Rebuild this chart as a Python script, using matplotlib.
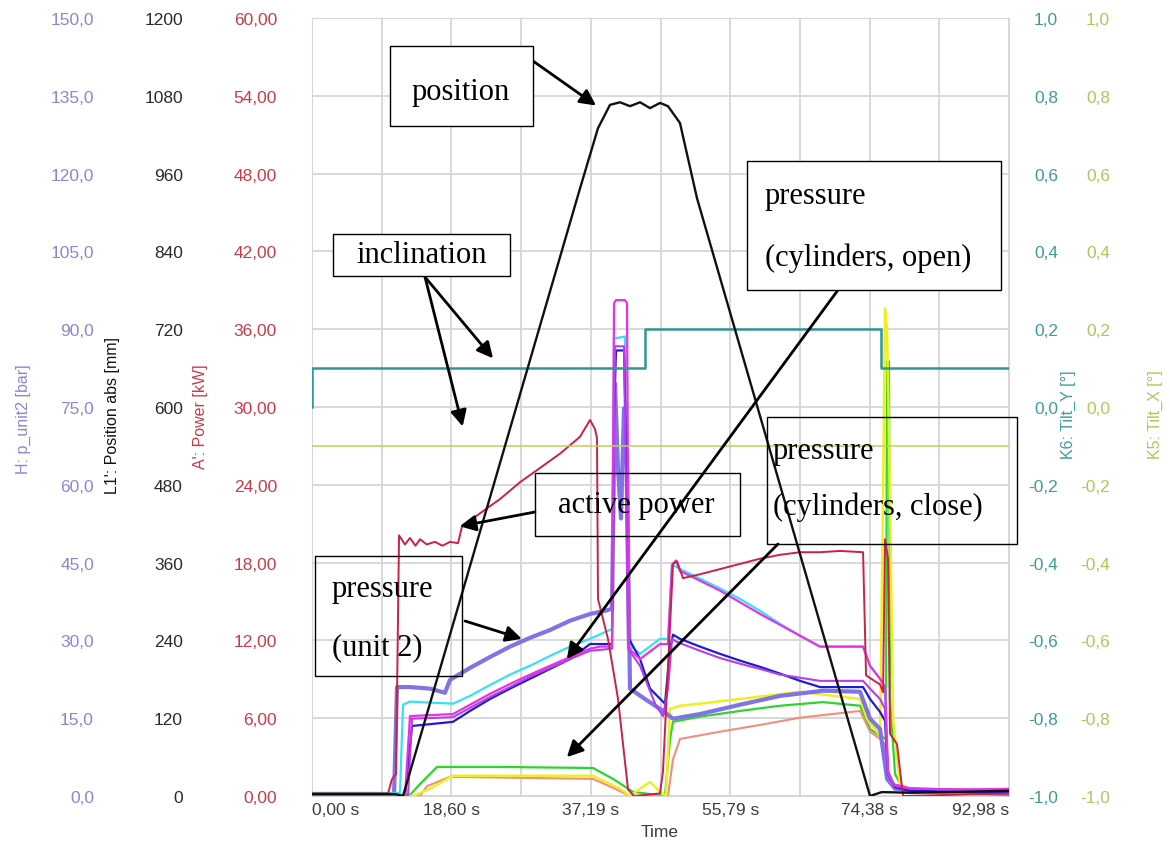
import matplotlib.pyplot as plt
from matplotlib import font_manager
from matplotlib.patches import Rectangle

# ---------------- data ----------------
time_ticks = [0.0, 9.298, 18.596, 27.894, 37.192, 46.49, 55.788, 65.086, 74.384, 83.682, 92.98]
time_labels = ['0,00 s', '', '18,60 s', '', '37,19 s', '', '55,79 s', '', '74,38 s', '', '92,98 s']

bar_ticks = [0, 15, 30, 45, 60, 75, 90, 105, 120, 135, 150]
bar_labels = ['0,0', '15,0', '30,0', '45,0', '60,0', '75,0', '90,0', '105,0', '120,0', '135,0', '150,0']
pos_ticks = [0, 120, 240, 360, 480, 600, 720, 840, 960, 1080, 1200]
pos_labels = ['0', '120', '240', '360', '480', '600', '720', '840', '960', '1080', '1200']
pow_ticks = [0, 6, 12, 18, 24, 30, 36, 42, 48, 54, 60]
pow_labels = ['0,00', '6,00', '12,00', '18,00', '24,00', '30,00', '36,00', '42,00', '48,00', '54,00', '60,00']
tilt_ticks = [-1.0, -0.8, -0.6, -0.4, -0.2, 0.0, 0.2, 0.4, 0.6, 0.8, 1.0]
tilt_labels = ['-1,0', '-0,8', '-0,6', '-0,4', '-0,2', '0,0', '0,2', '0,4', '0,6', '0,8', '1,0']

# position L1' [mm]
pos_t = [0, 11.07, 12.14, 35.75, 38.15, 39.75, 41.09, 42.42, 43.76, 45.09, 46.43, 47.49, 49.09, 51.36,
         74.44, 76.0, 80.0, 92.98]
pos_mm = [3, 3, 0, 937, 1030, 1066, 1070, 1064, 1070, 1061, 1069, 1064, 1038, 922, 0, 6, 5, 8]

# active power A' [kW]
pow_t = [0, 10.14, 10.67, 11.21, 11.61, 12.4, 13.07, 13.8, 14.41, 15.3, 16.41, 17.4, 18.41, 19.48, 20.01,
         22.41, 25.08, 27.75, 30.42, 33.08, 35.75, 37.09, 37.75, 38.02, 38.15, 39.49, 40.82, 42.16, 42.96,
         46.42, 46.82, 48.16, 48.69, 49.49, 51.76, 54.43, 57.10, 59.77, 62.43, 65.10, 67.77, 70.44, 73.51,
         73.91, 75.78, 76.18, 76.44, 76.84, 77.11, 78.04, 78.84, 92.98]
pow_kw = [0.2, 0.2, 1.3, 1.7, 20.1, 19.4, 19.9, 19.3, 19.8, 19.4, 19.6, 19.3, 19.6, 19.5, 20.8,
          21.8, 22.9, 24.2, 25.3, 26.4, 27.7, 29.0, 28.3, 27.6, 15.2, 12.1, 7.5, 0.5, 0.0,
          0.2, 1.9, 17.9, 18.1, 16.8, 17.1, 17.5, 17.9, 18.3, 18.6, 18.8, 18.8, 18.9, 18.8,
          9.3, 8.6, 8.0, 19.8, 18.3, 4.8, 4.0, 0.0, 0.2]

# inclination K6 / K5 [deg]
tilt_y_t = [0.0, 0.0, 44.42, 75.91, 92.98]
tilt_y = [0.0, 0.1, 0.2, 0.1, 0.1]
tilt_x_t = [0.0, 92.98]
tilt_x = [-0.1, -0.1]

# pressures [bar]
cyan_t = [0, 11.74, 12.14, 13.07, 18.81, 21.08, 23.75, 26.41, 29.08, 31.75, 34.42, 37.09, 40.02, 40.29,
          41.76, 42.16, 43.76, 46.42, 47.49, 48.03, 49.09, 51.76, 54.43, 57.10, 59.77, 62.43, 65.10, 67.77,
          73.51, 74.44, 75.78, 76.44, 76.84, 77.78, 79.78, 92.98]
cyan_p = [0.6, 0.6, 17.6, 18.2, 17.8, 19.3, 21.4, 23.4, 25.1, 27.0, 28.8, 30.3, 32.2, 88.2,
          88.6, 29.3, 27.4, 30.3, 30.3, 44.6, 43.8, 41.9, 40.0, 38.0, 35.7, 33.2, 30.9, 28.8,
          28.8, 25.1, 22.6, 21.0, 4.8, 1.9, 1.4, 0.8]

mag_a_t = [0, 12.41, 13.07, 18.81, 21.08, 23.75, 26.41, 29.08, 31.75, 34.42, 37.09, 38.42, 40.02, 40.29,
           40.55, 41.76, 42.02, 42.29, 43.76, 46.42, 47.49, 48.03, 48.56, 49.09, 54.43, 59.77, 65.10, 67.77,
           73.51, 74.44, 75.78, 76.44, 76.84, 77.51, 79.78, 86.45, 92.98]
mag_a_p = [0, 0, 15.4, 15.8, 17.6, 19.7, 21.6, 23.4, 25.1, 26.8, 28.4, 28.8, 28.8, 95.0,
           95.6, 95.6, 95.0, 28.4, 26.4, 29.3, 29.3, 44.6, 45.4, 43.4, 39.6, 35.1, 30.9, 28.8,
           28.8, 25.1, 22.6, 21.0, 4.8, 2.3, 1.5, 1.2, 1.4]

blue_t = [0, 12.41, 13.34, 18.81, 21.08, 23.75, 26.41, 29.08, 31.75, 34.42, 37.09, 40.02, 40.29, 40.55,
          41.62, 41.89, 42.29, 43.76, 45.09, 47.09, 47.76, 48.16, 49.09, 51.76, 54.43, 57.10, 59.77, 62.43,
          65.10, 67.77, 73.51, 74.44, 75.78, 76.44, 76.84, 77.78, 79.78, 92.98]
blue_p = [0, 0, 13.5, 14.3, 16.4, 18.7, 20.7, 22.6, 24.5, 26.4, 29.3, 29.3, 72.8, 85.9,
          85.9, 68.9, 30.3, 26.4, 20.7, 17.8, 28.4, 31.1, 30.3, 28.8, 27.4, 26.1, 24.9, 23.6,
          22.2, 21.0, 21.0, 18.7, 16.2, 14.5, 4.2, 1.7, 1.0, 0.6]

mag_b_t = [0, 12.81, 13.34, 18.81, 21.08, 23.75, 26.41, 29.08, 31.75, 34.42, 37.09, 40.02, 40.42, 41.62,
           42.16, 43.76, 45.76, 46.82, 47.49, 48.03, 48.69, 51.76, 54.43, 57.10, 59.77, 62.43, 65.10, 67.77,
           73.51, 74.44, 75.78, 76.44, 76.84, 77.78, 79.78, 92.98]
mag_b_p = [0, 0, 14.9, 15.2, 17.0, 19.1, 21.0, 23.0, 24.7, 26.4, 28.0, 28.4, 86.7, 86.7,
           28.4, 25.1, 17.8, 15.4, 20.7, 30.3, 29.7, 28.0, 26.6, 25.5, 24.5, 23.4, 22.8, 22.2,
           22.2, 20.7, 18.7, 16.8, 4.2, 1.9, 1.4, 1.2]

unit2_t = [0, 10.94, 11.34, 13.07, 15.74, 17.74, 18.41, 21.08, 23.75, 26.41, 29.08, 31.75, 34.42, 37.09,
           39.09, 40.02, 40.42, 40.82, 41.22, 41.62, 42.02, 42.42, 44.42, 46.82, 48.16, 51.76,
           57.10, 62.43, 68.17, 73.11, 74.44, 75.78, 76.71, 77.78, 92.98]
unit2_p = [0, 0, 21.0, 21.0, 20.7, 19.9, 22.4, 24.7, 26.8, 28.8, 30.5, 32.0, 33.8, 35.1,
           35.7, 36.1, 79.5, 63.1, 53.5, 74.7, 63.1, 20.7, 18.7, 16.4, 14.9, 15.8,
           17.6, 19.3, 20.3, 20.1, 14.9, 12.9, 3.3, 1.4, 0.4]

green_t = [0, 13.07, 14.41, 16.68, 25.08, 37.49, 40.15, 42.82, 47.09, 47.76, 48.16, 51.76, 57.10, 62.43,
           68.17, 73.11, 74.44, 75.78, 76.57, 76.71, 76.97, 77.11, 77.78, 79.11, 92.98]
green_p = [0, 0.2, 2.3, 5.6, 5.6, 5.4, 3.3, 0.8, 0, 11.0, 14.3, 15.3, 16.4, 17.4,
           18.1, 17.4, 12.9, 11.6, 11.0, 83.8, 83.8, 18.7, 4.2, 0.8, 0.2]

yellow_t = [0, 13.47, 15.74, 18.81, 37.49, 41.09, 42.42, 43.76, 45.09, 46.42, 47.23, 47.76, 49.09, 51.76,
            57.10, 65.10, 73.11, 74.04, 75.78, 76.18, 76.44, 76.71, 77.11, 77.51, 78.44, 79.78, 92.98]
yellow_p = [0, 0, 1.4, 3.9, 3.9, 1.4, 0, 1.4, 2.7, 0.8, 0, 16.8, 17.4, 17.8,
            18.7, 20.1, 18.7, 14.9, 11.6, 57.3, 94.0, 90.1, 57.3, 14.9, 2.3, 1.0, 0.4]

salmon_t = [0, 14.41, 15.34, 18.41, 37.49, 40.42, 42.42, 47.49, 48.16, 49.09, 54.43, 59.77, 65.10, 73.11,
            74.44, 75.78, 76.44, 76.84, 77.78, 92.98]
salmon_p = [0, 0, 1.9, 3.7, 3.3, 1.4, 0, 0, 7.1, 11.0, 12.4, 13.7, 15.1, 16.4,
            12.4, 11.0, 10.0, 4.2, 1.4, 0.2]

# ---------------- figure ----------------
W, H = 1170, 845
fig = plt.figure(figsize=(W / 100, H / 100), dpi=100)
fig.patch.set_facecolor('white')

names = {f.name for f in font_manager.fontManager.ttflist}
if 'Liberation Sans Narrow' in names:
    sans, tick_fs, lab_fs = 'Liberation Sans Narrow', 15, 13
else:
    sans, tick_fs, lab_fs = 'Liberation Sans', 12.5, 11.5
serif = 'Liberation Serif'

L, T, R, B = 312, 19, 1009, 797
px = lambda x, y: (x / W, 1 - y / H)
base = fig.add_axes([L / W, 1 - B / H, (R - L) / W, (B - T) / H])
base.set_xlim(0, 92.98)
base.set_ylim(0, 10)
base.set_yticks(range(11))
base.set_xticks(time_ticks, time_labels)
base.tick_params(axis='x', length=0, pad=4, labelsize=tick_fs, labelcolor='#3c3c3c')
for lab in base.get_xticklabels():
    lab.set_family(sans)
base.get_xticklabels()[0].set_ha('left')
base.get_xticklabels()[-1].set_ha('right')
base.grid(True, color='#d6d6d6', lw=1.3)
for s in base.spines.values():
    s.set_color('#d6d6d6')
fig.text(660 / W, 1 - 833 / H, 'Time', ha='center', va='center', family=sans, fontsize=tick_fs, color='#3c3c3c')


def twin(lo, hi, ticks, labels, side, pad_px, color):
    a = base.twinx()
    a.set_ylim(lo, hi)
    a.set_yticks(ticks, labels)
    a.yaxis.set_ticks_position(side)
    a.tick_params(axis='y', length=0, pad=pad_px * 0.72, labelsize=tick_fs, labelcolor=color)
    for lab in a.get_yticklabels():
        lab.set_family(sans)
        lab.set_ha('right')
    for s in a.spines.values():
        s.set_visible(False)
    return a


ax_bar = twin(0, 150, bar_ticks, bar_labels, 'left', L - 94, '#8a85d6')
ax_pow = twin(0, 60, pow_ticks, pow_labels, 'left', L - 277, '#c93a4a')
ax_k5 = twin(-1, 1, tilt_ticks, tilt_labels, 'right', 1110 - R, '#a9c95a')
ax_k6 = twin(-1, 1, tilt_ticks, tilt_labels, 'right', 1058 - R, '#3f9b9b')
ax_pos = twin(0, 1200, pos_ticks, pos_labels, 'left', L - 183, '#2a2a2a')
# twinx() turns the base's left ticks back on
base.tick_params(axis='y', left=False, right=False, labelleft=False, labelright=False, length=0)

# pressure lines
ax_bar.plot(green_t, green_p, color='#2ed42e', lw=1.6)
ax_bar.plot(salmon_t, salmon_p, color='#f0907c', lw=1.5)
ax_bar.plot(yellow_t, yellow_p, color='#eeee22', lw=1.8)
ax_bar.plot(unit2_t, unit2_p, color='#7f74e4', lw=3.0)
ax_bar.plot(cyan_t, cyan_p, color='#38e0f0', lw=1.6)
ax_bar.plot(blue_t, blue_p, color='#1c1cd0', lw=1.6)
ax_bar.plot(mag_b_t, mag_b_p, color='#b83ce8', lw=1.5)
ax_bar.plot(mag_a_t, mag_a_p, color='#e632e6', lw=1.6)

ax_pow.plot(pow_t, pow_kw, color='#cc2046', lw=1.4)

ax_k5.plot(tilt_x_t, tilt_x, color='#b8d25a', lw=1.1)
ax_k6.plot(tilt_y_t, tilt_y, color='#2f9797', lw=1.8, drawstyle='steps-post')

ax_pos.plot(pos_t, pos_mm, color='#111111', lw=1.7)

# axis titles
fig.text(*px(23, 419), "H: p_unit2 [bar]", rotation=90, ha='center', va='center',
         family=sans, fontsize=lab_fs, color='#8a85d6')
fig.text(*px(113, 415), "L1': Position abs [mm]", rotation=90, ha='center', va='center',
         family=sans, fontsize=lab_fs, color='#111111')
fig.text(*px(200, 417), "A': Power [kW]", rotation=90, ha='center', va='center',
         family=sans, fontsize=lab_fs, color='#c93a4a')
fig.text(*px(1068, 415), "K6: Tilt_Y [°]", rotation=90, ha='center', va='center',
         family=sans, fontsize=lab_fs, color='#3f9b9b')
fig.text(*px(1155, 415), "K5: Tilt_X [°]", rotation=90, ha='center', va='center',
         family=sans, fontsize=lab_fs, color='#a9c95a')

# annotation boxes
boxes = [((390, 47, 533, 127), True), ((333, 235, 510, 277), True), ((747, 162, 1001, 291), True),
         ((767, 418, 1017, 545), False), ((535, 474, 740, 537), False), ((315, 557, 462, 677), False)]
for (x0, y0, x1, y1), filled in boxes:
    fig.add_artist(Rectangle((x0 / W, 1 - y1 / H), (x1 - x0) / W, (y1 - y0) / H, transform=fig.transFigure,
                             facecolor='white' if filled else 'none', edgecolor='black', lw=1.0, zorder=2))

texts = [('position', 461, 100, 'center'), ('inclination', 422, 263, 'center'),
         ('pressure', 765, 204, 'left'), ('(cylinders, open)', 765, 266, 'left'),
         ('pressure', 773, 459, 'left'), ('(cylinders, close)', 773, 515, 'left'),
         ('active power', 636, 513, 'center'),
         ('pressure', 332, 597, 'left'), ('(unit 2)', 332, 655, 'left')]
for s, x, y, ha in texts:
    fig.text(*px(x, y), s, ha=ha, va='baseline', family=serif, fontsize=22, color='black', zorder=3)

arrow = dict(arrowstyle='-|>', color='black', lw=2.0, mutation_scale=24, shrinkA=0, shrinkB=0)
arrows = [(ax_pos, (37.9, 1065), (533, 62)),
          (ax_k6, (24.15, 0.125), (425, 278)),
          (ax_k6, (20.1, -0.05), (425, 278)),
          (ax_pow, (19.7, 20.8), (535, 513)),
          (ax_bar, (28.0, 30.3), (465, 622)),
          (ax_bar, (34.0, 26.4), (838, 291)),
          (ax_bar, (34.0, 7.5), (778, 545))]
for a, xy, (x, y) in arrows:
    ax_pos.annotate('', xy=xy, xycoords=a.transData, xytext=px(x, y), textcoords='figure fraction',
                    arrowprops=arrow, zorder=4, annotation_clip=False)

fig.savefig('out.png', dpi=100)
